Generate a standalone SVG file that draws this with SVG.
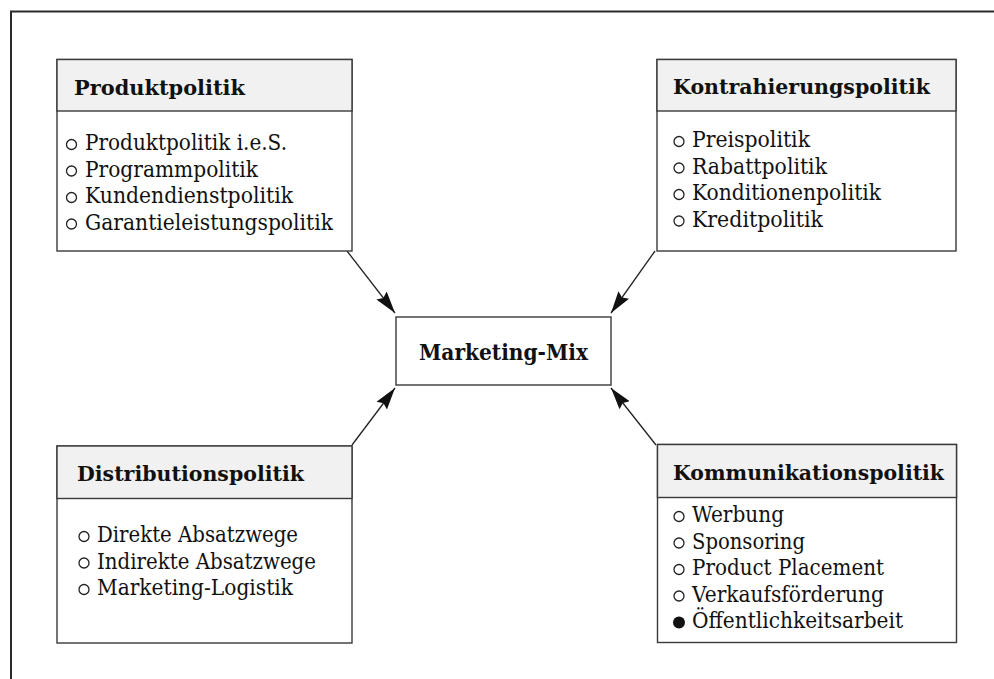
<svg xmlns="http://www.w3.org/2000/svg" width="994" height="679" viewBox="0 0 994 679">
  <style>
    .frame { fill: none; stroke: #2a2a2a; stroke-width: 2; }
    .box { fill: #ffffff; stroke: #3a3a3a; stroke-width: 1.4; }
    .head { fill: #f1f1f1; stroke: #3a3a3a; stroke-width: 1.4; }
    .title { font-family: "DejaVu Serif", "Liberation Serif", serif; font-weight: bold; font-size: 21px; fill: #111; }
    .centre { font-size: 22px; }
    .item { font-family: "DejaVu Serif", "Liberation Serif", serif; font-size: 21.5px; fill: #111; }
    .dot { fill: none; stroke: #222; stroke-width: 1.3; }
    .dot-full { fill: #111; }
    .conn { stroke: #222; stroke-width: 1.3; fill: none; marker-end: url(#arrow); }
  </style>
  <defs>
    <marker id="arrow" markerUnits="userSpaceOnUse" markerWidth="23" markerHeight="16" refX="22" refY="8" orient="auto">
      <path d="M0,1.5 L22,8 L0,14.5 L3,8 Z" fill="#111"/>
    </marker>
  </defs>

  <rect width="994" height="679" fill="#ffffff"/>

  <!-- page frame: top and left rule only -->
  <path class="frame" d="M11,679 V11.5 H994"/>

  <!-- connectors -->
  <g id="connectors">
    <line class="conn" x1="347" y1="251" x2="395" y2="313"/>
    <line class="conn" x1="655" y1="251" x2="611" y2="313"/>
    <line class="conn" x1="352" y1="445" x2="395" y2="388"/>
    <line class="conn" x1="656" y1="445" x2="611" y2="388"/>
  </g>

  <!-- centre -->
  <g id="marketing-mix">
    <rect class="box" x="396" y="317" width="215" height="68"/>
    <text class="title centre" x="419" y="360" textLength="169" lengthAdjust="spacingAndGlyphs">Marketing-Mix</text>
  </g>

  <!-- top left -->
  <g id="produktpolitik">
    <rect class="box" x="57" y="59.5" width="295" height="191.5"/>
    <rect class="head" x="57" y="59.5" width="295" height="51.5"/>
    <text class="title" x="74" y="94.5" textLength="171" lengthAdjust="spacingAndGlyphs">Produktpolitik</text>
    <circle class="dot" cx="71.5" cy="144.5" r="5"/>
    <text class="item" x="85" y="150" textLength="202" lengthAdjust="spacingAndGlyphs">Produktpolitik i.e.S.</text>
    <circle class="dot" cx="71.5" cy="171" r="5"/>
    <text class="item" x="85" y="176.5" textLength="173" lengthAdjust="spacingAndGlyphs">Programmpolitik</text>
    <circle class="dot" cx="71.5" cy="197.5" r="5"/>
    <text class="item" x="85" y="203" textLength="208" lengthAdjust="spacingAndGlyphs">Kundendienstpolitik</text>
    <circle class="dot" cx="71.5" cy="224" r="5"/>
    <text class="item" x="85" y="229.5" textLength="248" lengthAdjust="spacingAndGlyphs">Garantieleistungspolitik</text>
  </g>

  <!-- top right -->
  <g id="kontrahierungspolitik">
    <rect class="box" x="657" y="59.5" width="299" height="191.5"/>
    <rect class="head" x="657" y="59.5" width="299" height="51.5"/>
    <text class="title" x="673" y="94" textLength="257" lengthAdjust="spacingAndGlyphs">Kontrahierungspolitik</text>
    <circle class="dot" cx="679" cy="141.5" r="5"/>
    <text class="item" x="692" y="147" textLength="118" lengthAdjust="spacingAndGlyphs">Preispolitik</text>
    <circle class="dot" cx="679" cy="168" r="5"/>
    <text class="item" x="692" y="173.5" textLength="135" lengthAdjust="spacingAndGlyphs">Rabattpolitik</text>
    <circle class="dot" cx="679" cy="194.5" r="5"/>
    <text class="item" x="692" y="200" textLength="189" lengthAdjust="spacingAndGlyphs">Konditionenpolitik</text>
    <circle class="dot" cx="679" cy="221" r="5"/>
    <text class="item" x="692" y="226.5" textLength="131" lengthAdjust="spacingAndGlyphs">Kreditpolitik</text>
  </g>

  <!-- bottom left -->
  <g id="distributionspolitik">
    <rect class="box" x="57" y="446" width="295" height="197"/>
    <rect class="head" x="57" y="446" width="295" height="52.5"/>
    <text class="title" x="77" y="481" textLength="227" lengthAdjust="spacingAndGlyphs">Distributionspolitik</text>
    <circle class="dot" cx="84" cy="536.5" r="5"/>
    <text class="item" x="97" y="542" textLength="201" lengthAdjust="spacingAndGlyphs">Direkte Absatzwege</text>
    <circle class="dot" cx="84" cy="563" r="5"/>
    <text class="item" x="97" y="568.5" textLength="219" lengthAdjust="spacingAndGlyphs">Indirekte Absatzwege</text>
    <circle class="dot" cx="84" cy="589.5" r="5"/>
    <text class="item" x="97" y="595" textLength="196" lengthAdjust="spacingAndGlyphs">Marketing-Logistik</text>
  </g>

  <!-- bottom right -->
  <g id="kommunikationspolitik">
    <rect class="box" x="657.5" y="444.5" width="299" height="198"/>
    <rect class="head" x="657.5" y="444.5" width="299" height="53"/>
    <text class="title" x="673" y="480" textLength="271" lengthAdjust="spacingAndGlyphs">Kommunikationspolitik</text>
    <circle class="dot" cx="679" cy="516.5" r="5"/>
    <text class="item" x="692" y="522" textLength="92" lengthAdjust="spacingAndGlyphs">Werbung</text>
    <circle class="dot" cx="679" cy="543" r="5"/>
    <text class="item" x="692" y="548.5" textLength="113" lengthAdjust="spacingAndGlyphs">Sponsoring</text>
    <circle class="dot" cx="679" cy="569.5" r="5"/>
    <text class="item" x="692" y="575" textLength="192" lengthAdjust="spacingAndGlyphs">Product Placement</text>
    <circle class="dot" cx="679" cy="596" r="5"/>
    <text class="item" x="692" y="601.5" textLength="192" lengthAdjust="spacingAndGlyphs">Verkaufsförderung</text>
    <circle class="dot-full" cx="679" cy="622.5" r="6"/>
    <text class="item" x="692" y="628" textLength="211" lengthAdjust="spacingAndGlyphs">Öffentlichkeitsarbeit</text>
  </g>
</svg>
